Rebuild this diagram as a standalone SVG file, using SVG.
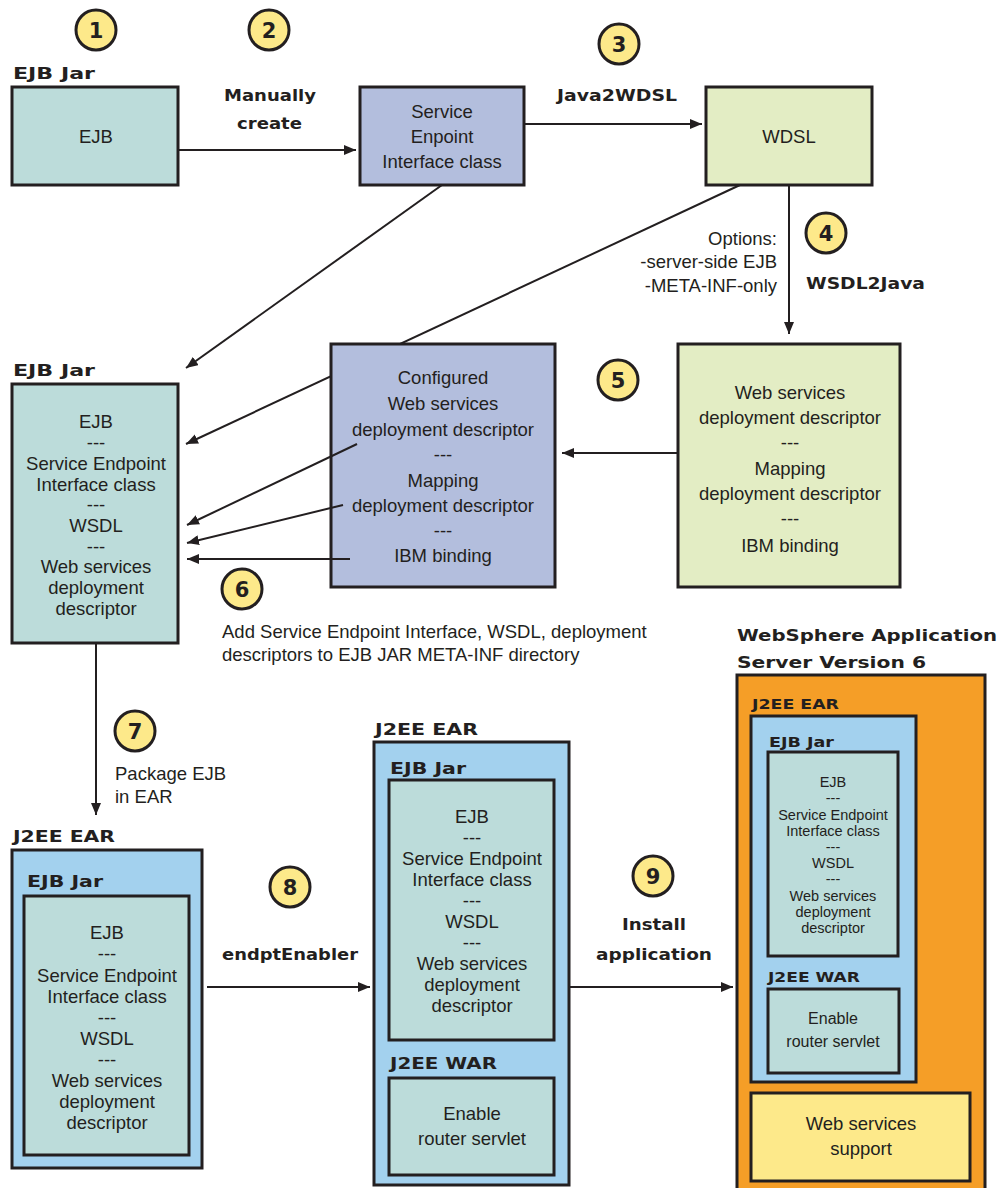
<svg xmlns="http://www.w3.org/2000/svg" width="999" height="1188" viewBox="0 0 999 1188">
<style>
.box{stroke:#231f20;stroke-width:3}
.teal{fill:#bcdcda}.lav{fill:#b3bedd}.grn{fill:#e3edc4}.blue{fill:#a3d1ee}.org{fill:#f59e27}.yel{fill:#fde98a}
.t{font-family:"Liberation Sans",Arial,sans-serif;font-size:18.5px;fill:#231f20;text-anchor:middle}
.ts{font-family:"Liberation Sans",Arial,sans-serif;font-size:14.5px;fill:#231f20;text-anchor:middle}
.tl{font-family:"Liberation Sans",Arial,sans-serif;font-size:18.5px;fill:#231f20}
.b{font-family:"DejaVu Sans",Verdana,sans-serif;font-weight:bold;font-size:16px;fill:#231f20}
.bs{font-family:"DejaVu Sans",Verdana,sans-serif;font-weight:bold;font-size:14px;fill:#231f20}
.num circle{fill:#fde98a;stroke:#231f20;stroke-width:3}
.num text{font-family:"DejaVu Sans",Verdana,sans-serif;font-weight:bold;font-size:21px;fill:#231f20;text-anchor:middle}
.c{stroke:#231f20;stroke-width:2;fill:none;marker-end:url(#ah)}
</style>
<defs>
<marker id="ah" markerUnits="userSpaceOnUse" markerWidth="13" markerHeight="10" refX="12" refY="5" orient="auto">
<path d="M0,0 L12,5 L0,10 z" fill="#231f20"/>
</marker>
</defs>
<rect width="999" height="1188" fill="#fff"/>

<g id="connectors-behind">
<path class="c" d="M740,185 L186,444"/>
</g>

<g id="n-ejbjar1">
<text class="b" x="13" y="79" textLength="82" lengthAdjust="spacingAndGlyphs">EJB Jar</text>
<rect class="box teal" x="12" y="87" width="166" height="98"/>
<text class="t" x="96" y="143">EJB</text>
</g>

<g id="n-sei">
<rect class="box lav" x="360" y="87" width="164" height="98"/>
<text class="t" x="442" y="118">Service</text>
<text class="t" x="442" y="143">Enpoint</text>
<text class="t" x="442" y="168">Interface class</text>
</g>

<g id="n-wdsl">
<rect class="box grn" x="706" y="87" width="166" height="98"/>
<text class="t" x="789" y="143">WDSL</text>
</g>

<g id="n-configured">
<rect class="box lav" x="331" y="344" width="224" height="243"/>
<text class="t" x="443" y="384">Configured</text>
<text class="t" x="443" y="410">Web services</text>
<text class="t" x="443" y="436">deployment descriptor</text>
<text class="t" x="443" y="461">---</text>
<text class="t" x="443" y="487">Mapping</text>
<text class="t" x="443" y="512">deployment descriptor</text>
<text class="t" x="443" y="537">---</text>
<text class="t" x="443" y="562">IBM binding</text>
</g>

<g id="n-generated">
<rect class="box grn" x="678" y="344" width="222" height="243"/>
<text class="t" x="790" y="399">Web services</text>
<text class="t" x="790" y="424">deployment descriptor</text>
<text class="t" x="790" y="449">---</text>
<text class="t" x="790" y="475">Mapping</text>
<text class="t" x="790" y="500">deployment descriptor</text>
<text class="t" x="790" y="525">---</text>
<text class="t" x="790" y="552">IBM binding</text>
</g>

<g id="n-ejbjar2">
<text class="b" x="13" y="376" textLength="82" lengthAdjust="spacingAndGlyphs">EJB Jar</text>
<rect class="box teal" x="12" y="384" width="166" height="259"/>
<text class="t" x="96" y="428">EJB</text>
<text class="t" x="96" y="449">---</text>
<text class="t" x="96" y="470">Service Endpoint</text>
<text class="t" x="96" y="491">Interface class</text>
<text class="t" x="96" y="511">---</text>
<text class="t" x="96" y="532">WSDL</text>
<text class="t" x="96" y="553">---</text>
<text class="t" x="96" y="573">Web services</text>
<text class="t" x="96" y="594">deployment</text>
<text class="t" x="96" y="615">descriptor</text>
</g>

<g id="n-ear1">
<text class="b" x="13" y="842" textLength="102" lengthAdjust="spacingAndGlyphs">J2EE EAR</text>
<rect class="box blue" x="12" y="850" width="190" height="318"/>
<text class="b" x="27" y="887" textLength="76" lengthAdjust="spacingAndGlyphs">EJB Jar</text>
<rect class="box teal" x="24" y="896" width="165" height="259"/>
<text class="t" x="107" y="939">EJB</text>
<text class="t" x="107" y="960">---</text>
<text class="t" x="107" y="982">Service Endpoint</text>
<text class="t" x="107" y="1003">Interface class</text>
<text class="t" x="107" y="1024">---</text>
<text class="t" x="107" y="1045">WSDL</text>
<text class="t" x="107" y="1066">---</text>
<text class="t" x="107" y="1087">Web services</text>
<text class="t" x="107" y="1108">deployment</text>
<text class="t" x="107" y="1129">descriptor</text>
</g>

<g id="n-ear2">
<text class="b" x="375" y="735" textLength="103" lengthAdjust="spacingAndGlyphs">J2EE EAR</text>
<rect class="box blue" x="374" y="742" width="195" height="443"/>
<text class="b" x="390" y="774" textLength="76" lengthAdjust="spacingAndGlyphs">EJB Jar</text>
<rect class="box teal" x="389" y="780" width="165" height="260"/>
<text class="t" x="472" y="823">EJB</text>
<text class="t" x="472" y="844">---</text>
<text class="t" x="472" y="865">Service Endpoint</text>
<text class="t" x="472" y="886">Interface class</text>
<text class="t" x="472" y="907">---</text>
<text class="t" x="472" y="928">WSDL</text>
<text class="t" x="472" y="949">---</text>
<text class="t" x="472" y="970">Web services</text>
<text class="t" x="472" y="991">deployment</text>
<text class="t" x="472" y="1012">descriptor</text>
<text class="b" x="390" y="1069" textLength="107" lengthAdjust="spacingAndGlyphs">J2EE WAR</text>
<rect class="box teal" x="389" y="1078" width="165" height="97"/>
<text class="t" x="472" y="1120">Enable</text>
<text class="t" x="472" y="1145">router servlet</text>
</g>

<g id="n-was">
<text class="b" x="737" y="641" textLength="260" lengthAdjust="spacingAndGlyphs">WebSphere Application</text>
<text class="b" x="737" y="668" textLength="189" lengthAdjust="spacingAndGlyphs">Server Version 6</text>
<rect class="box org" x="737" y="675" width="248" height="520"/>
<text class="bs" x="752" y="709" textLength="87" lengthAdjust="spacingAndGlyphs">J2EE EAR</text>
<rect class="box blue" x="751" y="716" width="165" height="366"/>
<text class="bs" x="769" y="747" textLength="65" lengthAdjust="spacingAndGlyphs">EJB Jar</text>
<rect class="box teal" x="768" y="752" width="130" height="204"/>
<text class="ts" x="833" y="787">EJB</text>
<text class="ts" x="833" y="803">---</text>
<text class="ts" x="833" y="820">Service Endpoint</text>
<text class="ts" x="833" y="836">Interface class</text>
<text class="ts" x="833" y="852">---</text>
<text class="ts" x="833" y="868">WSDL</text>
<text class="ts" x="833" y="884">---</text>
<text class="ts" x="833" y="901">Web services</text>
<text class="ts" x="833" y="917">deployment</text>
<text class="ts" x="833" y="933">descriptor</text>
<text class="bs" x="768" y="982" textLength="92" lengthAdjust="spacingAndGlyphs">J2EE WAR</text>
<rect class="box teal" x="768" y="989" width="131" height="84"/>
<text class="t" x="833" y="1024" style="font-size:16px">Enable</text>
<text class="t" x="833" y="1047" style="font-size:16px">router servlet</text>
<rect class="box yel" x="751" y="1093" width="219" height="88"/>
<text class="t" x="861" y="1130">Web services</text>
<text class="t" x="861" y="1155">support</text>
</g>

<g id="connectors">
<path class="c" d="M178,150 L356,150"/>
<path class="c" d="M524,124 L702,124"/>
<path class="c" d="M789,185 L789,334"/>
<path class="c" d="M678,453 L562,453"/>
<path class="c" d="M442,185 L186,368"/>
<path class="c" d="M357,444 L187,525"/>
<path class="c" d="M343,505 L187,543"/>
<path class="c" d="M350,559 L187,559"/>
<path class="c" d="M96,643 L96,815"/>
<path class="c" d="M207,987 L370,987"/>
<path class="c" d="M569,987 L733,987"/>
</g>

<g id="labels">
<text class="b" x="224" y="101" textLength="92" lengthAdjust="spacingAndGlyphs">Manually</text>
<text class="b" x="237" y="129" textLength="65" lengthAdjust="spacingAndGlyphs">create</text>
<text class="b" x="557" y="101" textLength="120" lengthAdjust="spacingAndGlyphs">Java2WDSL</text>
<text class="tl" x="777" y="245" text-anchor="end">Options:</text>
<text class="tl" x="777" y="268" text-anchor="end">-server-side EJB</text>
<text class="tl" x="777" y="292" text-anchor="end">-META-INF-only</text>
<text class="b" x="806" y="289" textLength="119" lengthAdjust="spacingAndGlyphs">WSDL2Java</text>
<text class="tl" x="222" y="638">Add Service Endpoint Interface, WSDL, deployment</text>
<text class="tl" x="222" y="661">descriptors to EJB JAR META-INF directory</text>
<text class="tl" x="115" y="780">Package EJB</text>
<text class="tl" x="115" y="803">in EAR</text>
<text class="b" x="222" y="960" textLength="136" lengthAdjust="spacingAndGlyphs">endptEnabler</text>
<text class="b" x="622" y="930" textLength="64" lengthAdjust="spacingAndGlyphs">Install</text>
<text class="b" x="596" y="960" textLength="116" lengthAdjust="spacingAndGlyphs">application</text>
</g>

<g id="steps" class="num">
<g id="s1"><circle cx="96" cy="30" r="20"/><text x="96" y="37.5">1</text></g>
<g id="s2"><circle cx="269" cy="30" r="20"/><text x="269" y="37.5">2</text></g>
<g id="s3"><circle cx="619" cy="44" r="20"/><text x="619" y="51.5">3</text></g>
<g id="s4"><circle cx="826" cy="233" r="20"/><text x="826" y="240.5">4</text></g>
<g id="s5"><circle cx="618" cy="380" r="20"/><text x="618" y="387.5">5</text></g>
<g id="s6"><circle cx="242" cy="589" r="20"/><text x="242" y="596.5">6</text></g>
<g id="s7"><circle cx="135" cy="731" r="20"/><text x="135" y="738.5">7</text></g>
<g id="s8"><circle cx="290" cy="887" r="20"/><text x="290" y="894.5">8</text></g>
<g id="s9"><circle cx="653" cy="876" r="20"/><text x="653" y="883.5">9</text></g>
</g>
</svg>
